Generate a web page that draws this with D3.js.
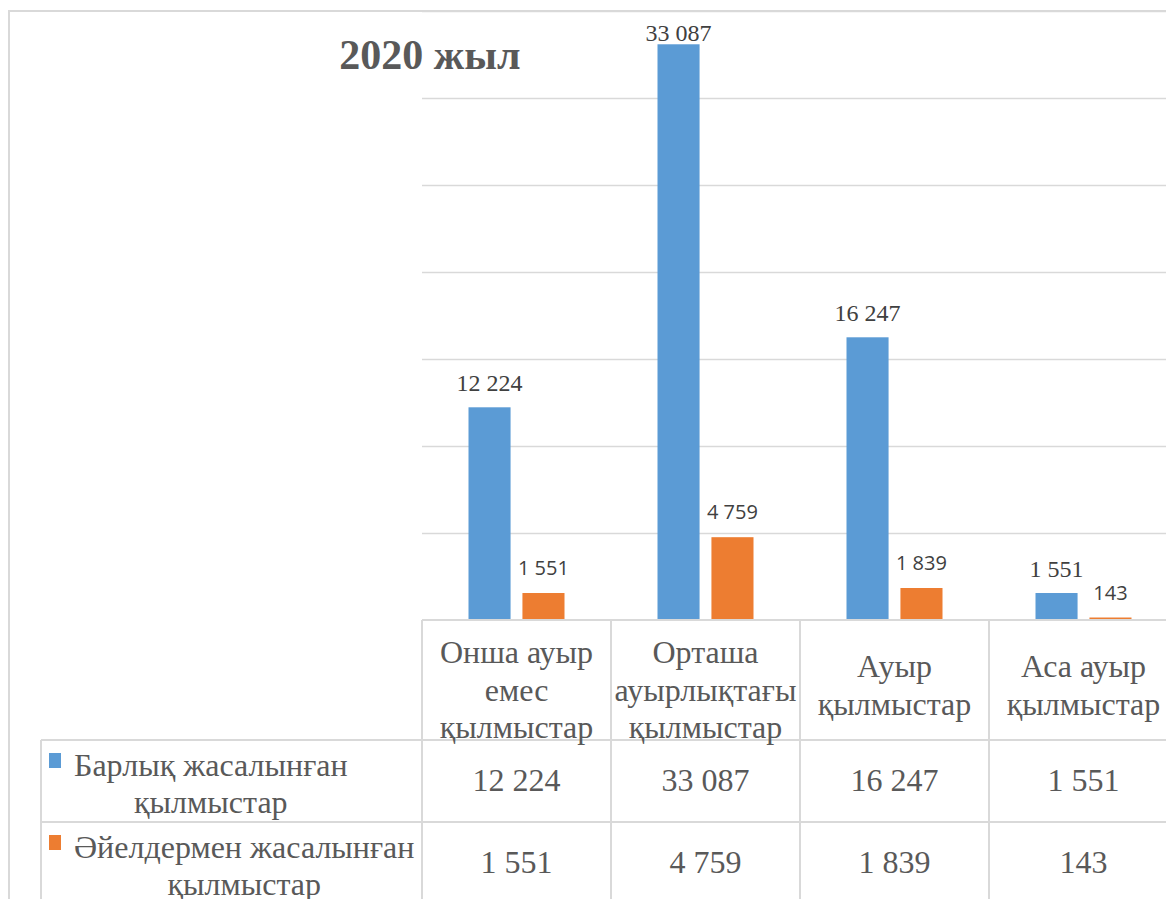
<!DOCTYPE html>
<html>
<head>
<meta charset="utf-8">
<script src="https://cdn.jsdelivr.net/npm/d3@7"></script>
<style>
  body { margin: 0; background: #fff; }
  svg { display: block; }
</style>
</head>
<body>
<div id="chart"></div>
<script>
// data
var categories = ["Онша ауыр емес қылмыстар", "Орташа ауырлықтағы қылмыстар", "Ауыр қылмыстар", "Аса ауыр қылмыстар"];
var categoryLines = [["Онша ауыр", "емес", "қылмыстар"], ["Орташа", "ауырлықтағы", "қылмыстар"], ["Ауыр", "қылмыстар"], ["Аса ауыр", "қылмыстар"]];
var seriesNames = ["Барлық жасалынған қылмыстар", "Әйелдермен жасалынған қылмыстар"];
var seriesLines = [["Барлық жасалынған", "қылмыстар"], ["Әйелдермен жасалынған", "қылмыстар"]];
var totalCrimes = [12224, 33087, 16247, 1551];
var womenCrimes = [1551, 4759, 1839, 143];
var colors = ["#5b9bd5", "#ed7d31"];
var title = "2020 жыл";

var W = 1166, H = 899;
var plotLeft = 422, plotTop = 11, plotBottom = 620, colW = 189;
var rowTops = [620, 740, 822];
var gridColor = "#d9d9d9";
var serif = "'Liberation Serif', 'Times New Roman', serif";
var sans = "'Open Sans', 'Liberation Sans', sans-serif";
var fmt = function(d) { return d3.format(",")(d).replace(/,/g, " "); };

var svg = d3.select("#chart").append("svg")
    .attr("width", W).attr("height", H);

// scales
var x0 = d3.scaleBand().domain(categories).range([plotLeft, plotLeft + colW * categories.length]);
var x1 = d3.scaleBand().domain([0, 1]).range([0, 96]).paddingInner(0.22);
var y = d3.scaleLinear().domain([0, 35000]).range([plotBottom, plotTop]);

// chart border
svg.append("path")
    .attr("d", "M9," + H + " V11 H" + W)
    .attr("fill", "none").attr("stroke", gridColor).attr("stroke-width", 2);

// gridlines
var grid = svg.append("g").attr("class", "grid")
    .attr("transform", "translate(" + plotLeft + ",0)")
    .call(d3.axisLeft(y).tickValues(d3.range(5000, 35001, 5000)).tickSize(-(W - plotLeft)).tickFormat(""));
grid.select(".domain").remove();
grid.selectAll("line").attr("stroke", gridColor).attr("stroke-width", 1.5);

// title
svg.append("text")
    .attr("x", 430).attr("y", 69)
    .attr("text-anchor", "middle")
    .style("font-family", serif).style("font-weight", "bold").style("font-size", "42px")
    .style("fill", "#595959")
    .text(title);

// bars
var data = [totalCrimes, womenCrimes];
var groups = svg.selectAll("g.series")
    .data(data)
    .enter().append("g").attr("class", "series");

groups.each(function(vals, s) {
  var g = d3.select(this);
  var off = (colW - 96) / 2 + x1(s);
  g.selectAll("rect")
    .data(vals)
    .enter().append("rect")
    .attr("x", function(d, i) { return x0(categories[i]) + off; })
    .attr("width", x1.bandwidth())
    .attr("y", function(d) { return y(d); })
    .attr("height", function(d) { return y(0) - y(d); })
    .style("fill", colors[s]);
  // labels kept inside the chart area (Excel pushes the top one down)
  g.selectAll("text")
    .data(vals)
    .enter().append("text")
    .attr("x", function(d, i) { return x0(categories[i]) + off + x1.bandwidth() / 2; })
    .attr("y", function(d) { return Math.max(y(d) - (s === 0 ? 16 : 18), plotTop + 30); })
    .attr("text-anchor", "middle")
    .style("font-family", s === 0 ? serif : sans)
    .style("font-size", s === 0 ? "24px" : "20px")
    .style("fill", "#404040")
    .text(fmt);
});

// table lines
var tableRight = W + 20;
var tl = svg.append("g").attr("stroke", gridColor).attr("stroke-width", 2);
tl.append("line").attr("x1", plotLeft).attr("x2", tableRight).attr("y1", rowTops[0]).attr("y2", rowTops[0]);
tl.append("line").attr("x1", 41).attr("x2", tableRight).attr("y1", rowTops[1]).attr("y2", rowTops[1]);
tl.append("line").attr("x1", 41).attr("x2", tableRight).attr("y1", rowTops[2]).attr("y2", rowTops[2]);
tl.append("line").attr("x1", 41).attr("x2", 41).attr("y1", rowTops[1]).attr("y2", H);
categories.forEach(function(c) {
  tl.append("line").attr("x1", x0(c)).attr("x2", x0(c)).attr("y1", rowTops[0]).attr("y2", H);
});

// category header labels
var lineH = 37.5;
categories.forEach(function(c, i) {
  var lines = categoryLines[i];
  var startY = rowTops[0] + 32 + (3 - lines.length) * 14;
  var t = svg.append("text")
    .attr("text-anchor", "middle")
    .style("font-family", serif).style("font-size", "32px").style("fill", "#595959");
  lines.forEach(function(l, j) {
    t.append("tspan").attr("x", x0(c) + colW / 2).attr("y", startY + j * lineH).attr("dy", "0.35em").text(l);
  });
});

// row labels with legend keys
seriesLines.forEach(function(lines, s) {
  var top = rowTops[s + 1];
  var g = svg.append("g");
  var first = g.append("text")
    .attr("x", 74).attr("y", top + 25).attr("dy", "0.35em")
    .style("font-family", serif).style("font-size", "32px").style("fill", "#595959")
    .text(lines[0]);
  var wFirst = first.node().getComputedTextLength();
  g.append("text")
    .attr("x", 74 + wFirst / 2).attr("y", top + 62).attr("dy", "0.35em")
    .attr("text-anchor", "middle")
    .style("font-family", serif).style("font-size", "32px").style("fill", "#595959")
    .text(lines[1]);
  g.append("rect")
    .attr("x", 49).attr("y", top + 13).attr("width", 12).attr("height", 15)
    .style("fill", colors[s]);
});

// row values
data.forEach(function(vals, s) {
  var top = rowTops[s + 1];
  svg.append("g").selectAll("text")
    .data(vals)
    .enter().append("text")
    .attr("x", function(d, i) { return x0(categories[i]) + colW / 2; })
    .attr("y", top + 40).attr("dy", "0.35em")
    .attr("text-anchor", "middle")
    .style("font-family", serif).style("font-size", "32px").style("fill", "#595959")
    .text(fmt);
});
</script>
</body>
</html>
